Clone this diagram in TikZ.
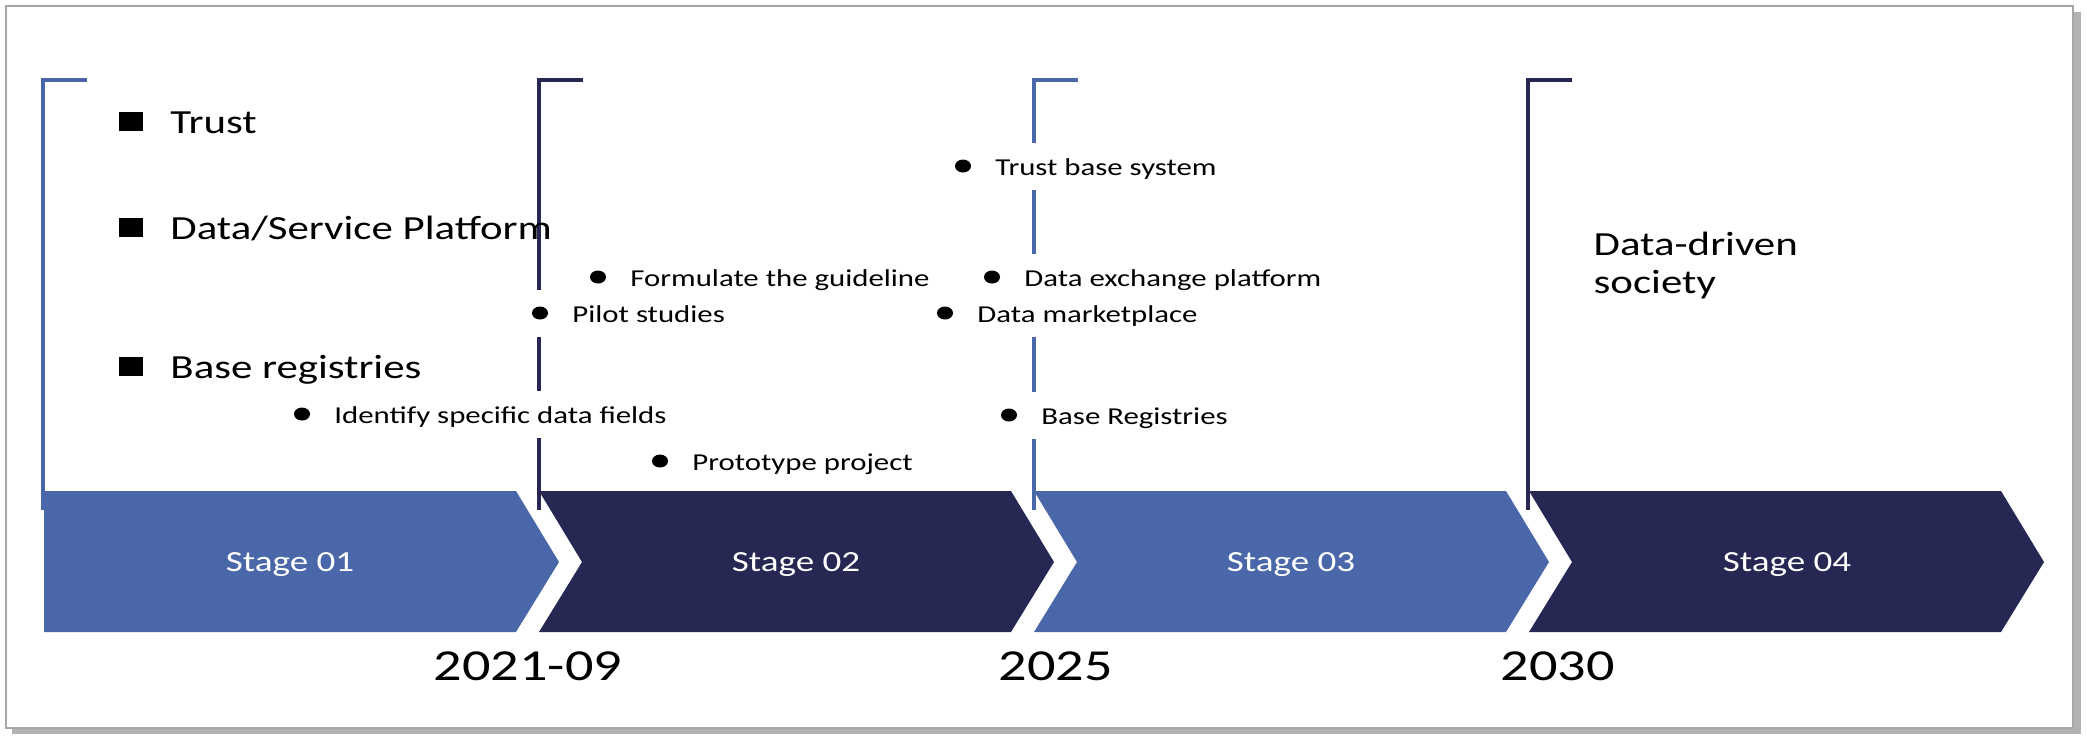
\documentclass[tikz,border=0pt]{standalone}
\usepackage{fontspec}
\setmainfont{Carlito}[FakeStretch=1.27]
\usetikzlibrary{positioning}
\definecolor{lightblue}{RGB}{74,103,170}
\definecolor{darkblue}{RGB}{38,40,83}

\begin{document}
\begin{tikzpicture}[x=0.01cm,y=-0.01cm,
  bracket/.style={line width=0.4mm},
  square/.style={fill=black,inner sep=0pt,minimum width=2.4mm,minimum height=1.9mm},
  bigitem/.style={inner sep=0pt,font=\fontsize{9.6}{10.8}\selectfont,text height=9.6pt,text depth=2.4pt},
  dot/.style={inner sep=0pt,fill=white,minimum width=3mm,minimum height=4.7mm,
    path picture={\fill[black] (path picture bounding box.center) ellipse [x radius=0.8mm,y radius=0.65mm];}},
  item/.style={fill=white,inner xsep=1.6mm,inner ysep=0pt,minimum height=4.7mm,
    font=\fontsize{6.9}{8}\selectfont,text height=6.9pt,text depth=1.7pt},
  stage/.style={text=white,font=\fontsize{8.3}{9.6}\selectfont},
  year/.style={inner sep=0pt,anchor=base west,font=\fontsize{12.6}{15}\selectfont}]
  \useasboundingbox (0,0) rectangle (2087,735);
  \fill[gray!60] (12,12) rectangle (2081,734);
  \draw[gray!70,fill=white,line width=0.2mm] (6,6) rectangle (2073,728);

  \fill[lightblue] (44,491) -- (516,491) -- (559,562) -- (516,632) -- (44,632) -- cycle;
  \foreach \l/\c in {539/darkblue,1034/lightblue,1529/darkblue}
    \fill[\c] (\l,491) -- (\l+472,491) -- (\l+515,562) -- (\l+472,632) -- (\l,632) -- (\l+43,562) -- cycle;
  \node[stage] (s1) at (290,565) {Stage 01};
  \node[stage] (s2) at (796,565) {Stage 02};
  \node[stage] (s3) at (1291,565) {Stage 03};
  \node[stage] (s4) at (1787,565) {Stage 04};

  \foreach \x/\c in {43/lightblue,539/darkblue,1034/lightblue,1528/darkblue}
    \draw[bracket,\c] (\x+44,80) -- (\x,80) -- (\x,510);

  \node[square] (q1) at (131,121) {};
  \node[bigitem,right=2.6mm of q1] (b1) {Trust};
  \node[square] (q2) at (131,227) {};
  \node[bigitem,right=2.6mm of q2] (b2) {Data/Service Platform};
  \node[square] (q3) at (131,366) {};
  \node[bigitem,right=2.6mm of q3] (b3) {Base registries};

  \node[dot] (d1) at (302,414) {};
  \node[item,right=0pt of d1] (t1) {Identify specific data fields};
  \node[dot] (d2) at (660,461) {};
  \node[item,right=0pt of d2] (t2) {Prototype project};
  \node[dot] (d3) at (540,313) {};
  \node[item,right=0pt of d3] (t3) {Pilot studies};
  \node[dot] (d4) at (598,277) {};
  \node[item,right=0pt of d4] (t4) {Formulate the guideline};
  \node[dot] (d5) at (963,166) {};
  \node[item,right=0pt of d5] (t5) {Trust base system};
  \node[dot] (d6) at (945,313) {};
  \node[item,right=0pt of d6] (t6) {Data marketplace};
  \node[dot] (d7) at (992,277) {};
  \node[item,right=0pt of d7] (t7) {Data exchange platform};
  \node[dot] (d8) at (1009,415) {};
  \node[item,right=0pt of d8] (t8) {Base Registries};

  \node[inner sep=0pt,anchor=base west,align=left,font=\fontsize{9.6}{10.8}\selectfont] (goal) at (1593,293) {Data-driven\\society};

  \node[year] (y1) at (433,680) {2021-09};
  \node[year] (y2) at (998,680) {2025};
  \node[year] (y3) at (1500,680) {2030};
\end{tikzpicture}
\end{document}
